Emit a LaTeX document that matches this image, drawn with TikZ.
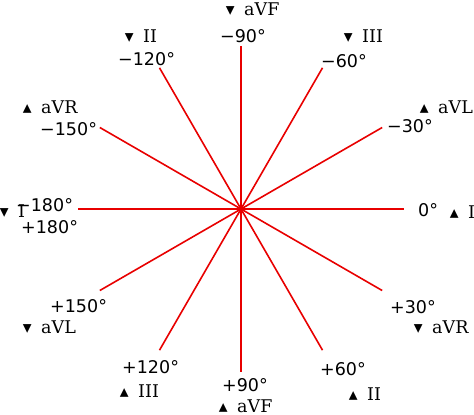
\documentclass[tikz,border=0pt]{standalone}
\usepackage{fontspec}
\usetikzlibrary{calc}
\setmainfont{DejaVu Serif}
\newfontfamily\degfont{DejaVu Sans}
\definecolor{spokered}{RGB}{232,0,0}
\newcommand{\leadup}[1]{\makebox[0pt]{\degfont ▴}\hspace{14pt}#1}
\newcommand{\leaddown}[1]{\makebox[0pt]{\degfont ▾}\hspace{14pt}#1}

\begin{document}
\begin{tikzpicture}[x=1pt,y=1pt,yscale=-1,xscale=1,
  deg/.style={anchor=base west,inner sep=0pt,font=\degfont\fontsize{17.5}{20}\selectfont},
  lead/.style={anchor=base west,inner sep=0pt,font=\fontsize{17.5}{20}\selectfont},
  spoke/.style={color=spokered,line width=1.6pt}]
\useasboundingbox (0,0) rectangle (474,415);

%Straight Lines
\coordinate (O) at (241,209);
\foreach \a in {0,30,...,330}
  {\coordinate (e\a) at ($(O)+(\a:163)$);
   \draw[spoke] (O) -- (e\a);}

% Text Node
\node[deg] (d0) at (418,216) {0°};
% Text Node
\node[deg] (dm30) at (387,132) {−30°};
% Text Node
\node[deg] (dm60) at (321,67) {−60°};
% Text Node
\node[deg] (dm90) at (220,42) {−90°};
% Text Node
\node[deg] (dm120) at (118,65) {−120°};
% Text Node
\node[deg] (dm150) at (40,135) {−150°};
% Text Node
\node[deg] (dm180) at (16,211) {−180°};
% Text Node
\node[deg] (dp180) at (21,233) {+180°};
% Text Node
\node[deg] (dp150) at (50,312) {+150°};
% Text Node
\node[deg] (dp120) at (122,373) {+120°};
% Text Node
\node[deg] (dp90) at (222,391) {+90°};
% Text Node
\node[deg] (dp60) at (320,375) {+60°};
% Text Node
\node[deg] (dp30) at (390,313) {+30°};

% Text Node
\node[lead] (lIIt) at (129,42) {\leaddown{II}};
% Text Node
\node[lead] (laVFt) at (230,15) {\leaddown{aVF}};
% Text Node
\node[lead] (lIIIt) at (348,42) {\leaddown{III}};
% Text Node
\node[lead] (laVLr) at (424,113) {\leadup{aVL}};
% Text Node
\node[lead] (lIr) at (454,218) {\leadup{I}};
% Text Node
\node[lead] (laVRr) at (418,333) {\leaddown{aVR}};
% Text Node
\node[lead] (lIIb) at (353,400) {\leadup{II}};
% Text Node
\node[lead] (laVFb) at (223,412) {\leadup{aVF}};
% Text Node
\node[lead] (lIIIb) at (124,397) {\leadup{III}};
% Text Node
\node[lead] (laVLl) at (27,333) {\leaddown{aVL}};
% Text Node
\node[lead] (lIl) at (4,217) {\leaddown{I}};
% Text Node
\node[lead] (laVRl) at (27,113) {\leadup{aVR}};

\end{tikzpicture}
\end{document}
